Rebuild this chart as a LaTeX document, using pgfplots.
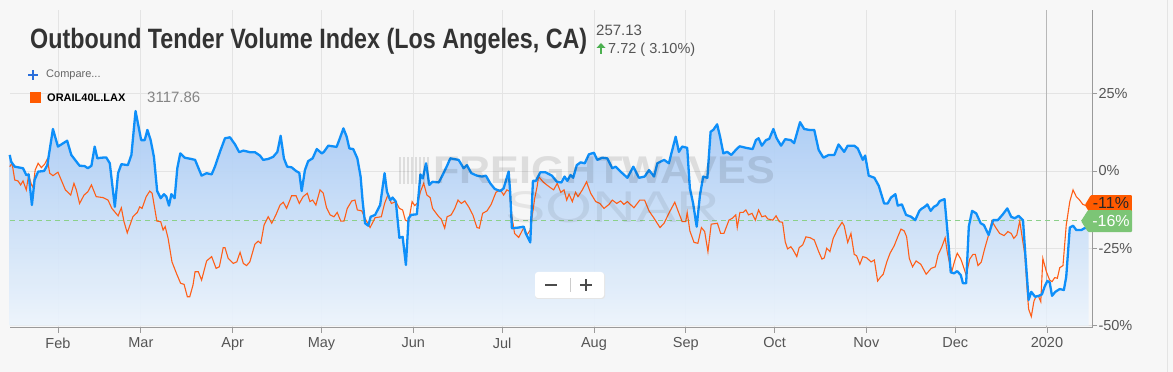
\documentclass[border=0pt]{standalone}
\usepackage{fontspec}
\setmainfont{Liberation Sans}
\usepackage{graphicx}
\usepackage{pgfplots}
\usepackage{pgfplotstable}
\pgfplotsset{compat=1.18}
\definecolor{bgc}{HTML}{F7F7F7}
\definecolor{gridc}{HTML}{E4E4E4}
\definecolor{axisc}{HTML}{9A9A9A}
\definecolor{yearc}{HTML}{B8B8B8}
\definecolor{labc}{HTML}{555555}
\definecolor{titc}{HTML}{333333}
\definecolor{bluel}{HTML}{0E8FF9}
\definecolor{orangel}{HTML}{FF5E17}
\definecolor{tagor}{HTML}{FF5A00}
\definecolor{taggr}{HTML}{7CC576}
\definecolor{dashg}{HTML}{8CD08A}
\definecolor{filltop}{RGB}{166,201,244}
\definecolor{fillbot}{RGB}{236,244,252}
\definecolor{arrowg}{HTML}{4CB050}
\definecolor{cmpblue}{HTML}{2A6FDB}

\pgfplotstableread{
d v
14.7 5.2
15.2 3.0
16.4 1.4
19.2 0.9
20.3 -1.3
21.1 -1.1
22.2 -11.0
23.1 -2.9
24.3 -0.2
26.3 0.0
27.4 1.9
29.3 13.6
31.0 7.9
34.1 9.8
35.5 5.2
38.3 1.7
40.0 1.6
41.1 0.9
42.3 1.7
43.4 7.9
44.3 4.1
45.6 4.3
47.3 4.4
48.5 2.5
50.2 -11.6
51.3 -0.7
52.4 2.2
54.6 1.9
55.8 5.2
57.2 19.4
59.1 10.0
60.3 10.0
61.2 13.3
62.3 10.0
63.4 4.6
64.5 -6.5
65.7 -8.8
66.8 -7.5
67.6 -8.3
68.5 -11.2
69.3 -7.5
70.4 -8.8
71.3 0.9
72.3 5.7
73.8 4.3
76.0 3.9
77.3 3.6
79.5 -1.5
81.2 -0.7
82.9 -1.1
84.0 1.4
85.7 6.2
87.4 10.6
89.1 10.9
90.8 8.6
92.2 6.1
93.6 6.6
95.8 6.1
97.5 6.1
99.2 5.0
100.3 3.6
102.0 3.9
103.7 4.6
105.1 6.2
106.2 11.4
107.3 4.1
108.4 1.4
109.9 1.2
111.4 0.0
112.5 -0.6
113.3 -6.5
114.4 0.3
115.5 3.2
117.0 4.1
118.4 7.1
120.1 5.7
120.8 6.2
122.3 8.2
125.1 7.8
126.2 10.6
127.4 13.8
128.5 11.1
129.4 7.3
130.7 7.1
132.1 4.1
133.2 -1.8
133.9 -9.9
134.7 -16.9
135.8 -17.7
136.6 -14.8
138.1 -14.2
139.8 -11.0
141.3 -0.7
142.1 -6.7
143.2 -9.4
144.0 -8.6
145.1 -9.9
146.3 -21.6
147.4 -21.3
148.5 -30.4
149.4 -15.3
150.3 -14.2
152.2 -14.0
153.4 -1.1
154.2 -2.4
155.3 2.5
156.4 -4.5
157.5 -3.5
159.6 -3.7
160.9 -1.3
162.4 1.7
163.5 4.1
166.3 3.6
168.0 0.9
169.1 1.9
170.6 -0.7
172.5 -1.5
174.2 -1.8
175.5 -1.5
177.0 -4.0
178.5 -5.8
180.4 -6.5
181.5 -5.6
183.2 -0.2
183.7 -6.7
184.3 -18.5
186.6 -18.3
188.3 -18.0
189.0 -20.2
190.5 -23.1
191.4 -3.2
192.4 -3.2
193.9 -0.4
195.6 -0.4
197.8 -1.5
199.5 -3.5
201.0 -3.7
202.1 -1.8
203.0 -3.2
204.1 -1.3
205.0 -2.2
206.2 1.9
207.5 2.8
208.9 2.5
210.3 5.4
212.0 5.9
213.1 3.6
214.8 4.3
216.5 4.1
218.2 0.9
219.3 1.4
221.0 -0.2
223.3 -2.2
225.3 1.4
227.2 -2.2
229.1 -1.8
230.6 0.3
232.3 -1.8
233.4 2.5
235.7 3.6
237.3 2.5
239.6 11.1
240.7 6.2
241.8 7.9
243.5 7.5
244.4 -5.6
245.5 -10.5
246.7 -18.0
247.8 -7.8
248.9 -1.8
250.3 -2.2
251.4 12.7
252.3 13.3
253.6 15.1
254.6 11.1
255.7 5.7
257.0 6.2
258.4 5.2
259.9 6.8
261.2 8.0
263.3 7.5
265.6 7.1
266.7 10.0
267.6 10.6
268.7 8.2
270.1 10.0
271.2 10.4
272.6 13.6
273.7 10.6
275.2 8.2
276.6 10.3
278.5 10.0
279.6 9.0
281.6 15.8
283.0 13.6
284.7 13.3
286.4 13.3
287.9 6.8
289.5 4.3
291.3 5.2
293.2 5.2
294.6 8.6
296.5 6.2
297.7 8.2
299.9 8.2
301.1 7.3
302.8 3.6
303.6 5.0
304.8 -1.5
306.7 -2.2
308.2 -4.8
310.0 -10.5
311.2 -10.5
312.3 -8.6
313.8 -7.5
314.6 -11.2
316.0 -10.8
317.4 -14.2
319.1 -14.8
320.5 -15.9
321.9 -12.9
322.5 -12.3
323.7 -11.6
324.6 -10.8
325.7 -12.9
326.8 -11.6
327.9 -11.0
328.8 -9.7
330.4 -9.1
331.6 -21.8
332.5 -32.8
333.6 -33.1
334.7 -32.4
335.9 -33.7
336.6 -36.3
337.7 -36.3
338.6 -18.0
339.7 -12.9
341.1 -13.7
342.6 -16.9
343.7 -17.5
345.3 -20.7
346.8 -15.9
348.4 -15.9
350.1 -14.0
351.6 -12.1
352.9 -14.8
354.1 -15.3
355.4 -14.5
356.9 -15.9
357.7 -27.2
358.8 -41.7
359.7 -39.1
361.0 -40.7
362.2 -40.4
363.3 -39.9
364.2 -37.4
365.1 -35.6
365.9 -36.0
366.7 -40.4
367.8 -39.1
369.3 -38.2
370.7 -38.5
371.5 -34.2
372.7 -18.3
373.8 -17.7
374.9 -19.1
376.6 -19.1
377.7 -18.5
379.1 -18.3
}\bluedata

\pgfplotstableread{
d v
14.7 1.4
15.5 2.5
16.4 -2.9
17.5 -3.2
18.4 -4.5
19.2 -3.2
20.3 -6.1
21.1 -1.3
22.0 -4.3
22.6 -5.4
23.3 0.3
24.3 2.5
25.4 1.1
26.5 2.2
27.4 3.9
28.2 -0.7
29.3 -1.5
31.0 -0.4
32.1 -2.9
33.5 -6.1
35.3 -7.8
36.4 -4.0
37.2 -6.1
38.3 -10.5
39.8 -7.8
41.1 -6.7
42.3 -4.5
43.9 -8.3
46.2 -8.6
47.9 -9.4
49.2 -12.1
51.3 -14.5
52.4 -11.9
53.3 -16.4
54.4 -20.0
56.3 -14.8
57.8 -13.4
58.6 -11.6
59.4 -12.1
60.8 -8.3
62.0 -6.5
62.8 -7.2
64.4 -16.2
65.7 -16.4
66.5 -19.1
67.2 -18.0
68.2 -21.8
69.5 -29.4
71.0 -33.1
72.4 -36.3
73.6 -36.7
74.7 -40.7
75.5 -40.7
76.6 -36.9
77.3 -32.6
78.4 -32.6
79.5 -35.3
81.2 -29.1
82.9 -27.7
84.4 -31.5
85.5 -31.0
86.8 -24.8
87.4 -24.8
88.5 -28.3
90.2 -29.9
91.4 -29.4
92.5 -26.3
93.6 -29.9
94.7 -30.6
95.8 -29.4
97.5 -23.7
98.6 -22.7
99.5 -23.4
100.6 -17.5
102.0 -14.8
103.2 -16.9
104.6 -14.2
106.0 -11.0
107.1 -10.1
108.2 -12.1
109.9 -8.0
111.4 -8.0
112.5 -10.5
113.8 -8.3
115.2 -7.2
116.1 -9.9
117.0 -9.4
118.1 -11.0
119.5 -6.1
120.6 -7.2
121.7 -11.9
122.9 -14.2
124.2 -14.8
125.3 -13.4
126.5 -16.2
127.6 -16.2
128.7 -12.1
130.2 -9.7
131.3 -9.4
132.1 -12.6
133.6 -12.9
134.7 -15.3
136.4 -18.3
138.1 -15.1
140.2 -14.8
141.3 -10.5
142.4 -7.8
143.6 -10.5
145.1 -9.9
146.3 -12.1
147.4 -12.6
148.3 -15.9
149.4 -16.4
150.6 -9.9
151.5 -11.2
152.6 -10.1
153.4 -6.7
154.5 -4.0
155.6 -7.8
156.7 -8.6
157.5 -12.1
159.6 -14.8
160.4 -15.5
161.6 -18.5
162.4 -14.8
163.8 -14.2
165.0 -12.1
166.1 -9.4
167.2 -10.5
168.4 -9.7
169.7 -11.6
171.1 -14.2
172.5 -18.3
173.3 -18.5
174.4 -13.7
175.9 -12.9
177.3 -10.8
178.9 -6.9
180.4 -6.1
181.5 -7.8
182.6 -6.1
183.4 -6.5
184.3 -14.8
185.2 -20.2
186.6 -21.5
188.3 -18.3
189.4 -20.7
190.5 -19.1
192.0 -8.8
192.8 -5.1
193.3 -1.8
195.0 -3.7
197.3 -5.4
198.4 -6.1
199.6 -4.0
200.8 -6.9
201.9 -6.1
202.8 -9.4
203.6 -7.5
204.7 -9.9
205.8 -6.9
206.6 -8.3
208.1 -6.1
209.5 -3.5
210.9 -7.2
212.6 -9.9
214.0 -10.5
215.4 -12.1
217.1 -10.8
218.2 -9.4
219.7 -10.5
221.0 -9.7
222.1 -10.8
223.3 -9.9
225.5 -11.9
227.5 -9.4
229.1 -9.4
230.6 -12.9
232.3 -15.3
234.3 -18.3
235.7 -16.9
237.3 -13.7
239.3 -10.1
240.4 -12.9
241.8 -16.4
243.0 -16.4
243.5 -13.4
244.4 -19.4
245.8 -23.1
247.1 -23.4
248.3 -18.3
249.4 -19.6
250.5 -26.1
251.6 -17.2
253.7 -16.9
254.8 -20.2
255.9 -20.2
257.6 -15.9
258.7 -15.3
259.9 -14.2
260.4 -18.3
261.3 -13.4
262.4 -13.4
263.3 -12.6
264.2 -14.2
265.4 -13.7
266.5 -15.9
267.6 -12.6
268.7 -14.8
269.9 -14.5
270.7 -15.5
272.4 -15.9
273.5 -14.5
274.6 -16.4
275.7 -16.6
276.6 -22.9
277.4 -25.2
278.5 -24.5
279.3 -25.6
280.5 -27.7
281.3 -24.8
282.5 -23.9
283.6 -21.3
285.0 -21.6
286.4 -22.3
287.9 -26.1
289.0 -28.5
289.8 -28.1
290.6 -25.0
291.7 -26.1
292.8 -21.8
294.3 -18.8
295.8 -16.6
296.5 -17.7
297.7 -23.1
298.8 -20.2
299.9 -27.0
300.7 -27.4
301.8 -30.2
302.8 -27.7
304.1 -28.1
305.6 -29.4
306.7 -28.8
307.8 -35.6
308.9 -34.2
309.7 -33.4
310.9 -29.4
312.0 -26.6
313.4 -24.2
314.6 -21.3
315.7 -18.8
316.8 -19.4
317.6 -21.3
318.5 -28.3
319.6 -31.0
320.8 -29.1
322.4 -30.2
324.2 -33.4
325.9 -31.5
327.3 -31.0
328.2 -27.2
329.5 -24.5
330.6 -21.6
331.3 -26.1
332.1 -29.9
332.9 -32.4
333.8 -29.1
334.7 -26.6
335.9 -28.5
336.6 -30.4
337.7 -33.7
338.9 -28.5
340.0 -27.0
340.8 -27.0
341.7 -30.6
342.8 -29.5
344.0 -25.0
345.1 -21.3
346.4 -16.2
347.5 -18.0
349.0 -20.2
350.5 -20.9
351.8 -19.6
352.9 -20.2
353.8 -21.8
354.8 -20.7
355.8 -16.2
356.5 -20.7
357.5 -27.0
358.3 -38.5
358.8 -44.7
359.7 -47.1
360.6 -42.1
361.4 -40.4
362.2 -40.7
362.9 -42.3
363.6 -28.3
364.8 -32.6
365.9 -35.3
366.7 -35.8
367.6 -34.5
368.5 -34.7
369.3 -31.3
370.4 -30.6
371.5 -17.5
372.7 -9.9
373.8 -6.1
374.9 -8.3
376.0 -9.4
377.1 -10.8
378.5 -11.3
}\orangedata

\begin{document}
\begin{tikzpicture}[x=1pt,y=1pt]
\useasboundingbox (0,0) rectangle (1173,372);
\fill[bgc] (0,0) rectangle (1173,372);
\draw[gridc, line width=1pt] (1167,0) -- (1167,372);

\begin{axis}[
  at={(10pt,44pt)}, anchor=south west, scale only axis,
  width=1082pt, height=318pt,
  xmin=14.8, xmax=380.2, ymin=-50.8, ymax=52.1,
  axis x line*=bottom, axis y line*=right,
  axis line style={draw=axisc, line width=1pt, -},
  xtick={31,59,90,120,151,181,212,243,273,304,334},
  xticklabels={Feb,Mar,Apr,May,Jun,Jul,Aug,Sep,Oct,Nov,Dec},
  extra x ticks={365}, extra x tick labels={2020},
  extra x tick style={grid style={draw=yearc, line width=1pt}},
  ytick={-50,-25,0,25}, yticklabels={-50\%,-25\%,0\%,25\%},
  xmajorgrids, ymajorgrids,
  grid style={draw=gridc, line width=0.8pt},
  tick align=outside, major tick length=5pt,
  tick style={draw=axisc, line width=0.8pt},
  xticklabel style={font=\fontsize{14.5}{17}\selectfont, text=labc, yshift=-1pt},
  yticklabel style={font=\fontsize{14.5}{17}\selectfont, text=labc, anchor=west, xshift=-2pt},
  clip=false,
]
\addplot[top color=filltop, bottom color=fillbot, draw=none, fill opacity=0.92, forget plot]
  table[x=d, y=v] {\bluedata} -- (axis cs:379.1,-50) -- (axis cs:14.7,-50) -- cycle;
\addplot[dashg, dash pattern=on 5pt off 4pt, line width=1pt] coordinates {(14.8,-16) (376.5,-16)};
\addplot[orangel, line width=1.1pt] table[x=d, y=v] {\orangedata};
\addplot[bluel, line width=2.3pt, line join=round] table[x=d, y=v] {\bluedata};
\coordinate (ot) at (axis cs:377.8,-11.0);
\coordinate (gt) at (axis cs:376.5,-16.2);
\end{axis}

% tags
\fill[tagor, rounded corners=1pt] (ot) -- ++(6,10) -- ++(41,0) -- ++(0,-20) -- ++(-41,0) -- cycle;
\node[anchor=center, text=black!85, font=\fontsize{16}{18}\selectfont] at ([xshift=26pt,yshift=2pt]ot) {-11\%};
\fill[taggr, rounded corners=1pt] (gt) -- ++(7,11) -- ++(44,0) -- ++(0,-22) -- ++(-44,0) -- cycle;
\node[anchor=center, text=white, font=\fontsize{16}{18}\selectfont] at ([xshift=30pt]gt) {-16\%};

% watermark
\begin{scope}[opacity=0.10]
\foreach \xx in {399,403,407,411,415,419,423,427} {\fill[black] (\xx,188) rectangle ++(2,27);}
\node[anchor=south west, inner sep=0] at (433,188) {\resizebox{342pt}{27pt}{\bfseries FREIGHTWAVES}};
\end{scope}
\begin{scope}[opacity=0.07]
\node[anchor=south west, inner sep=0] at (505,149) {\resizebox{215pt}{31pt}{SONAR}};
\end{scope}

% zoom buttons
\fill[black!10, rounded corners=3pt] (535,73) rectangle (605,99);
\fill[white, rounded corners=3pt] (535,74) rectangle (604,100);
\draw[black!20, line width=0.8pt] (570,80) -- (570,94);
\draw[black!70, line width=2.4pt] (545,87) -- (557,87);
\draw[black!70, line width=2.4pt] (580,87) -- (592,87);
\draw[black!70, line width=2.4pt] (586,81) -- (586,93);

% title block
\node[anchor=base west, inner sep=0, text=titc] at (30,323.5)
  {\resizebox{557pt}{\height}{\fontsize{28}{30}\selectfont\bfseries Outbound Tender Volume Index (Los Angeles, CA)}};
\node[anchor=base west, inner sep=0, text=labc, font=\fontsize{15}{16}\selectfont] at (596,336.5) {257.13};
\fill[arrowg] (596.5,324) -- (601,329) -- (605.5,324) -- cycle;
\fill[arrowg] (599.6,318) rectangle (602.4,324.2);
\node[anchor=base west, inner sep=0, text=labc, font=\fontsize{14.5}{16}\selectfont] at (608,318) {7.72 ( 3.10\%)};

% legend
\draw[cmpblue, line width=2pt] (28,297) -- (38,297);
\draw[cmpblue, line width=2pt] (33,292) -- (33,302);
\node[anchor=west, inner sep=0, text=black!60, font=\fontsize{11}{13}\selectfont] at (46,297) {Compare...};
\fill[tagor] (30,269) rectangle (41,280);
\node[anchor=west, inner sep=0, text=black, font=\fontsize{11}{13}\selectfont\bfseries] at (47,274.5) {ORAIL40L.LAX};
\node[anchor=west, inner sep=0, text=black!48, font=\fontsize{15}{17}\selectfont] at (147,274.5) {3117.86};
\end{tikzpicture}
\end{document}
